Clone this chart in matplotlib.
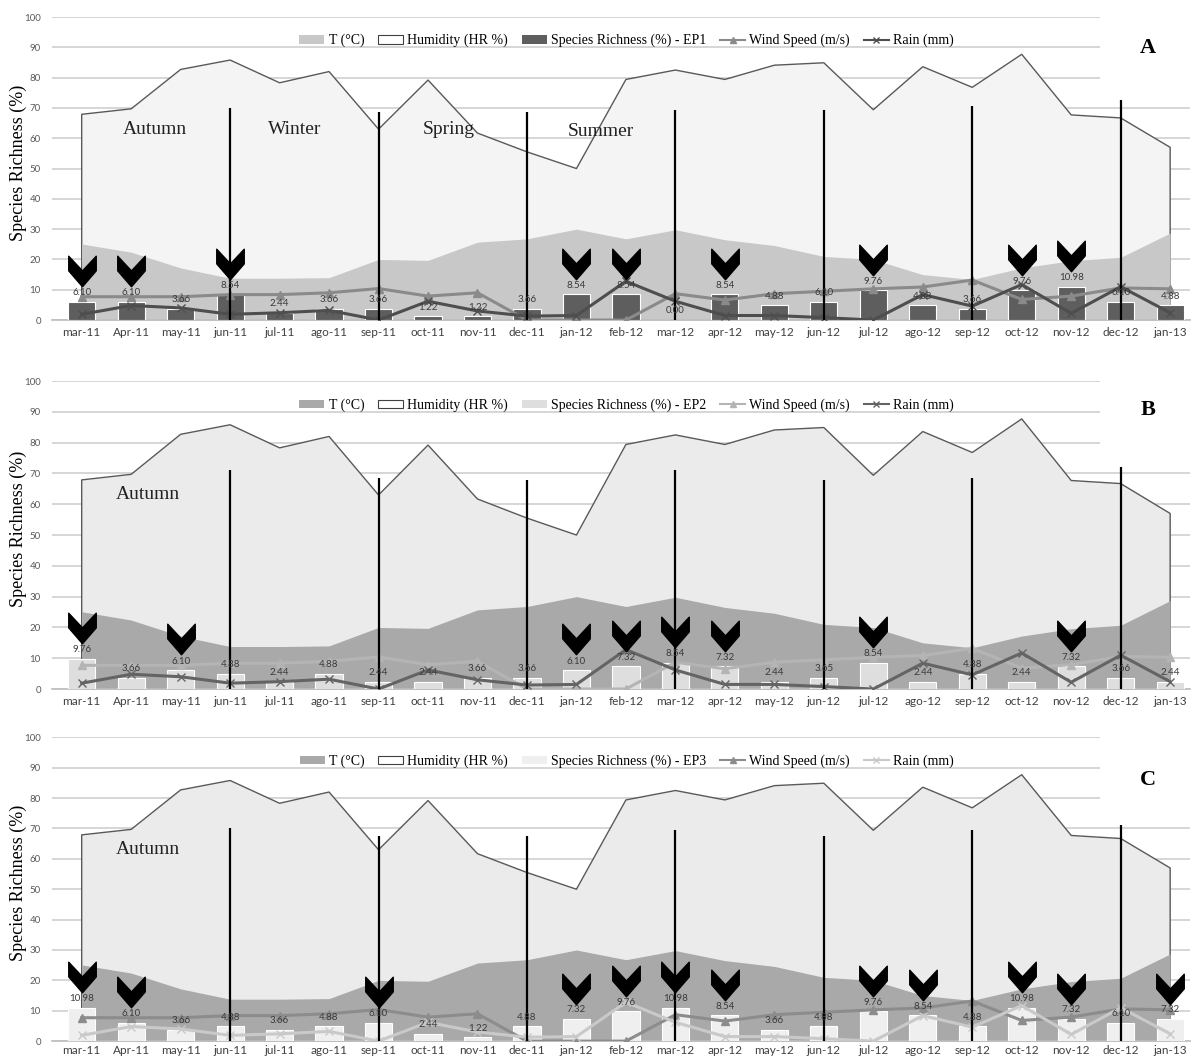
import numpy as np
import matplotlib
matplotlib.use("Agg")
import matplotlib.pyplot as plt
from matplotlib.path import Path
from matplotlib.patches import Patch, Rectangle
from matplotlib.lines import Line2D

# ---------------- data ----------------
months = ["mar-11", "Apr-11", "may-11", "jun-11", "jul-11", "ago-11", "sep-11",
          "oct-11", "nov-11", "dec-11", "jan-12", "feb-12", "mar-12", "apr-12",
          "may-12", "jun-12", "jul-12", "ago-12", "sep-12", "oct-12", "nov-12",
          "dec-12", "jan-13"]

humidity = [67.9, 69.7, 82.7, 85.8, 78.3, 82.0, 63.0, 79.2, 61.7, 55.5, 50.0,
            79.4, 82.5, 79.4, 84.1, 84.9, 69.4, 83.6, 76.8, 87.7, 67.7, 66.7, 57.0]
temperature = [25.1, 22.4, 17.2, 13.8, 13.8, 14.0, 20.0, 19.7, 25.7, 26.8, 30.0,
               26.8, 29.8, 26.5, 24.6, 21.0, 20.0, 15.0, 13.4, 17.2, 19.6, 20.7, 28.7]
wind = [7.7, 7.7, 7.7, 8.4, 8.4, 9.0, 10.4, 7.9, 9.0, 0.0, 0.0,
        0.0, 8.7, 6.6, 8.7, 9.5, 10.3, 10.9, 13.2, 6.8, 7.9, 10.6, 10.3]
rain = [1.9, 4.8, 4.0, 1.9, 2.4, 3.2, 0.0, 6.2, 3.0, 1.3, 1.5,
        12.8, 6.2, 1.5, 1.5, 0.8, 0.0, 8.4, 4.6, 11.7, 2.2, 11.0, 2.4]

rich_ep1 = [6.10, 6.10, 3.66, 8.54, 2.44, 3.66, 3.66, 1.22, 1.22, 3.66, 8.54,
            8.54, 0.00, 8.54, 4.88, 6.10, 9.76, 4.88, 3.66, 9.76, 10.98, 6.10, 4.88]
rich_ep2 = [9.76, 3.66, 6.10, 4.88, 2.44, 4.88, 2.44, 2.44, 3.66, 3.66, 6.10,
            7.32, 8.54, 7.32, 2.44, 3.65, 8.54, 2.44, 4.88, 2.44, 7.32, 3.66, 2.44]
rich_ep3 = [10.98, 6.10, 3.66, 4.88, 3.66, 4.88, 6.10, 2.44, 1.22, 4.88, 7.32,
            9.76, 10.98, 8.54, 3.66, 4.88, 9.76, 8.54, 4.88, 10.98, 7.32, 6.10, 7.32]

chev_ep1 = ["mar-11", "Apr-11", "jun-11", "jan-12", "feb-12", "apr-12", "jul-12",
            "oct-12", "nov-12"]
chev_ep2 = ["mar-11", "may-11", "jan-12", "feb-12", "mar-12", "apr-12", "jul-12",
            "nov-12"]
chev_ep3 = ["mar-11", "Apr-11", "sep-11", "jan-12", "feb-12", "mar-12", "apr-12",
            "jul-12", "ago-12", "oct-12", "nov-12", "jan-13"]

divider_months = ["jun-11", "sep-11", "dec-11", "mar-12", "jun-12", "sep-12", "dec-12"]

legend_labels = ["T (°C)", "Humidity (HR %)", "Species Richness (%) - {}",
                 "Wind Speed (m/s)", "Rain (mm)"]

# ---------------- styling ----------------
panels = [
    dict(name="A", ep="EP1", rich=rich_ep1, chev=chev_ep1,
         t_col="#c8c8c8", h_col="#f4f4f4", bar_col="#5e5e5e",
         wind_col="#8a8a8a", rain_col="#4e4e4e",
         rect=[0.0433, 0.6992, 0.9475, 0.2848], xpad=5,
         seasons=[("Autumn", 1.47, 63.0), ("Winter", 4.3, 63.0),
                  ("Spring", 7.41, 63.0), ("Summer", 10.5, 62.3)],
         letter_y=0.898, box_y=0.73, div_top=[70, 68.6, 68.6, 69.4, 69.4, 70.5, 72.6]),
    dict(name="B", ep="EP2", rich=rich_ep2, chev=chev_ep2,
         t_col="#a9a9a9", h_col="#ebebeb", bar_col="#dedede",
         wind_col="#b4b4b4", rain_col="#646464",
         rect=[0.0433, 0.3524, 0.9475, 0.2895], xpad=5,
         seasons=[("Autumn", 1.33, 63.0)],
         letter_y=0.906, box_y=0.77, div_top=[71, 68.5, 68, 71, 68, 68.5, 72]),
    dict(name="C", ep="EP3", rich=rich_ep3, chev=chev_ep3,
         t_col="#a9a9a9", h_col="#ebebeb", bar_col="#efefef",
         wind_col="#8c8c8c", rain_col="#c9c9c9",
         rect=[0.0433, 0.0215, 0.9475, 0.2855], xpad=2.5,
         seasons=[("Autumn", 1.33, 63.0)],
         letter_y=0.861, box_y=0.75, div_top=[70, 67.6, 67.6, 69.6, 67.6, 69.6, 71]),
]

chev_verts = [(-0.45, 0.5), (0.0, 0.02), (0.45, 0.5), (0.45, 0.02),
              (0.0, -0.5), (-0.45, 0.02), (-0.45, 0.5)]
chev_codes = [Path.MOVETO] + [Path.LINETO] * 5 + [Path.CLOSEPOLY]
chevron = Path(chev_verts, chev_codes)

SERIF = ["Liberation Serif", "DejaVu Serif"]
SANS = ["Lato", "DejaVu Sans"]

fig = plt.figure(figsize=(12.01, 10.64), dpi=100)
fig.patch.set_facecolor("white")

x = np.arange(len(months))
idx = {m: i for i, m in enumerate(months)}

for p in panels:
    ax = fig.add_axes(p["rect"])
    ax.set_xlim(-0.6, 22.4)
    ax.set_ylim(0, 100)
    ax.set_yticks(np.arange(0, 101, 10))
    ax.set_xticks(x)
    ax.set_xticklabels(months, fontfamily=SANS, fontsize=8.5, color="#404040")
    for lab in ax.get_yticklabels():
        lab.set_fontfamily(SANS)
    ax.tick_params(axis="y", labelsize=7, labelcolor="#595959", length=0, pad=8)
    ax.tick_params(axis="x", length=0, pad=p["xpad"])
    ax.yaxis.grid(True, color="#d6d6d6", lw=1.4)
    ax.set_axisbelow(True)
    for s in ["top", "right", "left"]:
        ax.spines[s].set_visible(False)
    ax.spines["bottom"].set_color("#bdbdbd")
    ax.spines["bottom"].set_linewidth(1.2)

    # white box behind the panel letter
    ax.add_patch(Rectangle((0.921, p["box_y"]), 0.079, 1 - p["box_y"] + 0.01,
                           transform=ax.transAxes, facecolor="white",
                           edgecolor="none", zorder=0.8, clip_on=False))

    hum = np.array(humidity)
    ax.fill_between(x, 0, hum, color=p["h_col"], zorder=1, lw=0)
    ax.plot(np.r_[x[0], x, x[-1]], np.r_[0, hum, 0], color="#595959", lw=1.0, zorder=1.5)
    ax.fill_between(x, 0, temperature, color=p["t_col"], zorder=2, lw=0)

    rich = np.array(p["rich"])
    ax.bar(x, rich, width=0.55, color=p["bar_col"], edgecolor="white", lw=0.8, zorder=3)

    ax.plot(x, wind, color=p["wind_col"], lw=2.2, marker="^", ms=6, zorder=4)
    ax.plot(x, rain, color=p["rain_col"], lw=2.2, marker="x", ms=6, mew=1.0, zorder=4)

    dx = [idx[m] for m in divider_months]
    ax.vlines(dx, 0, p["div_top"], color="black", lw=1.6, zorder=5)

    for xi, v in zip(x, rich):
        ax.text(xi, v + 3, f"{v:.2f}", ha="center", va="center", fontsize=7,
                fontfamily=SANS, color="#3a3a3a", zorder=6)

    cx = [idx[m] for m in p["chev"]]
    ax.plot(cx, rich[cx] + 10, ls="none", marker=chevron, ms=22, color="black",
            mec="black", zorder=7)

    for txt, sx, sy in p["seasons"]:
        ax.text(sx, sy, txt, ha="center", va="center", fontsize=14,
                fontfamily=SERIF, color="#222222", zorder=6)

    ax.text(0.963, p["letter_y"], p["name"], transform=ax.transAxes, ha="center",
            va="center", fontsize=16, fontweight="bold", fontfamily=SERIF, zorder=8)

    ax.set_ylabel("Species Richness (%)", fontfamily=SERIF, fontsize=13)
    ax.yaxis.set_label_coords(-0.022, 0.52)

    handles = [
        Patch(facecolor=p["t_col"], edgecolor="none"),
        Patch(facecolor="white", edgecolor="#404040", lw=0.8),
        Patch(facecolor=p["bar_col"], edgecolor="none"),
        Line2D([], [], color=p["wind_col"], lw=1.5, marker="^", ms=5),
        Line2D([], [], color=p["rain_col"], lw=1.5, marker="x", ms=5),
    ]
    labels = [l.format(p["ep"]) if "{}" in l else l for l in legend_labels]
    leg = ax.legend(handles, labels, loc="center", bbox_to_anchor=(0.505, 0.922),
                    ncol=5, frameon=False, prop={"family": SERIF, "size": 10},
                    handlelength=1.8, handleheight=0.55, columnspacing=1.0,
                    handletextpad=0.3)
    leg.set_zorder(9)

fig.savefig("out.png", dpi=100, facecolor="white")
